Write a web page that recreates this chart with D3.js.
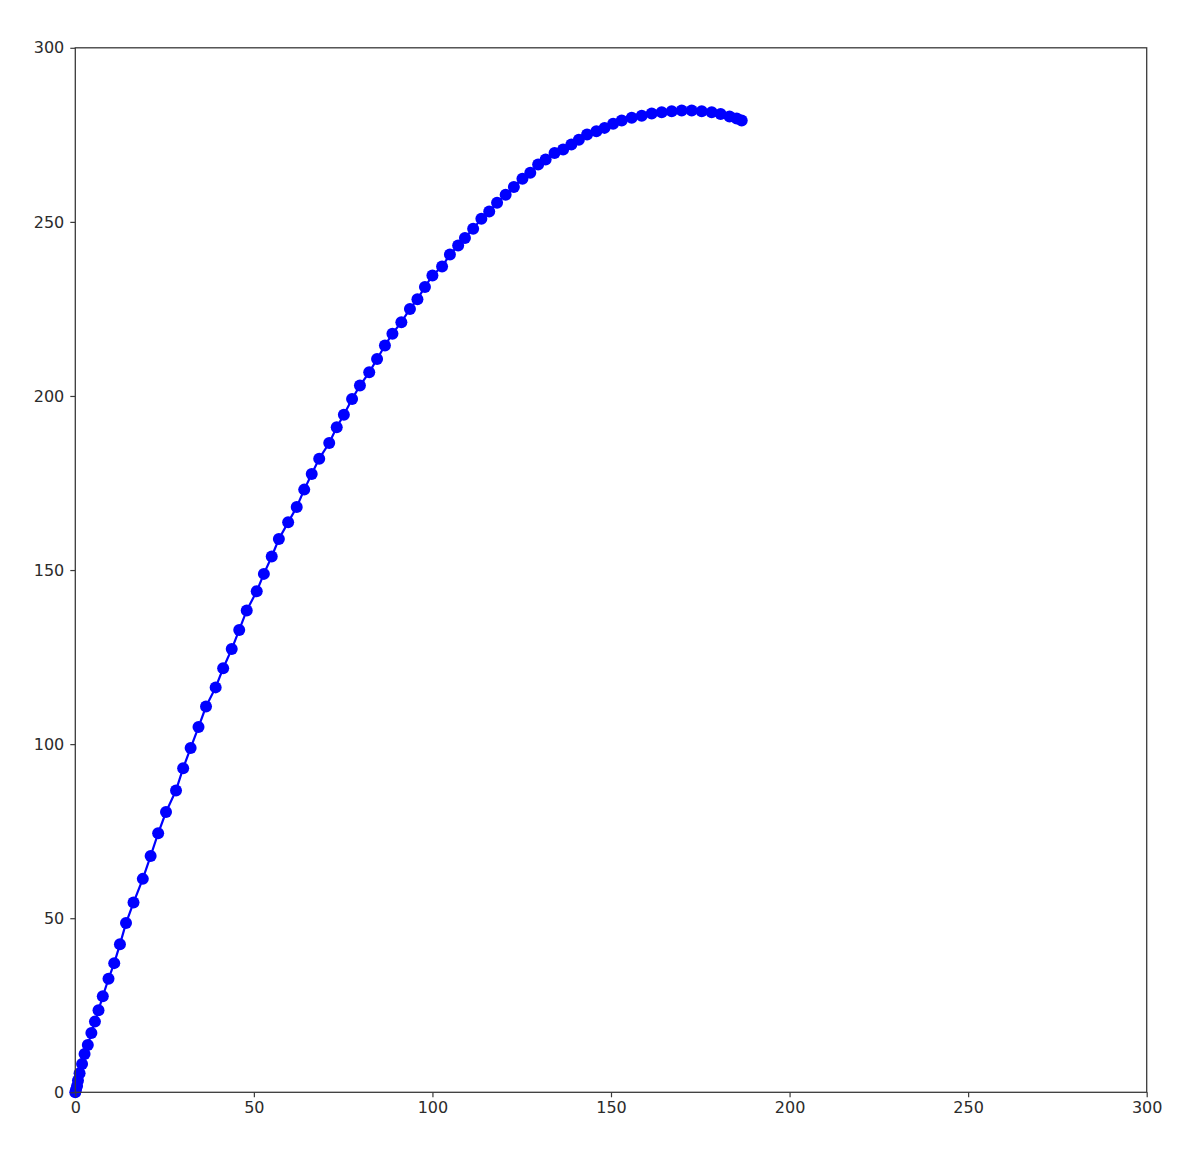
<!DOCTYPE html>
<html>
<head>
<meta charset="utf-8">
<script src="https://cdn.jsdelivr.net/npm/d3@7"></script>
<style>
  html, body { margin: 0; padding: 0; background: #fff; }
  svg { display: block; }
  .tick text { font-family: "DejaVu Sans", sans-serif; }
</style>
</head>
<body>
<div id="chart"></div>
<script>
// Trajectory data (x, y)
const xValues = [0, 0.2, 0.5, 0.75, 1.2, 1.9, 2.6, 3.5, 4.5, 5.5, 6.5, 7.7, 9.3, 10.9, 12.5, 14.2, 16.3,
  18.9, 21.1, 23.2, 25.4, 28.2, 30.2, 32.3, 34.5, 36.6, 39.3, 41.4, 43.8, 45.9, 48.0, 50.8, 52.8,
  55.0, 57.0, 59.6, 62.0, 64.1, 66.2, 68.3, 71.1, 73.2, 75.2, 77.5, 79.7, 82.3, 84.5, 86.7, 88.8,
  91.3, 93.7, 95.8, 97.9, 100.0, 102.7, 104.9, 107.2, 109.1, 111.4, 113.7, 115.9, 118.1, 120.5,
  122.8, 125.2, 127.4, 129.6, 131.7, 134.2, 136.6, 138.9, 141.0, 143.3, 145.9, 148.2, 150.6, 153.0,
  155.8, 158.6, 161.4, 164.2, 167.0, 169.8, 172.6, 175.4, 178.2, 180.7, 183.2, 185.2, 186.6];
const yValues = [0, 0.7, 1.8, 3.4, 5.5, 8.1, 11.0, 13.6, 17.0, 20.3, 23.6, 27.6, 32.6, 37.1, 42.5, 48.6, 54.5,
  61.3, 67.9, 74.4, 80.5, 86.7, 93.1, 98.9, 104.9, 110.8, 116.3, 121.8, 127.3, 132.8, 138.4, 143.9, 148.9,
  153.9, 158.9, 163.7, 168.1, 173.1, 177.6, 182.0, 186.5, 191.0, 194.6, 199.1, 203.0, 206.8, 210.6, 214.5, 217.9,
  221.2, 225.0, 227.8, 231.3, 234.6, 237.2, 240.6, 243.2, 245.4, 248.0, 250.9, 253.0, 255.5, 257.8,
  260.0, 262.4, 264.1, 266.5, 267.9, 269.8, 270.8, 272.2, 273.6, 275.1, 276.0, 277.0, 278.2, 279.1,
  279.9, 280.5, 281.1, 281.5, 281.8, 282.0, 282.0, 281.8, 281.5, 281.0, 280.3, 279.7, 279.1];
const xTicks = [0, 50, 100, 150, 200, 250, 300];
const yTicks = [0, 50, 100, 150, 200, 250, 300];
const xDomain = [0, 300];
const yDomain = [0, 300];

const W = 1200, H = 1162;
const margin = { left: 75.3, right: 1200 - 1146.7, top: 47.8, bottom: 1162 - 1092.3 };

const svg = d3.select("#chart").append("svg")
  .attr("width", W).attr("height", H)
  .style("background", "#fff");

const x = d3.scaleLinear().domain(xDomain).range([margin.left, W - margin.right]);
const y = d3.scaleLinear().domain(yDomain).range([H - margin.bottom, margin.top]);

const data = xValues.map((v, i) => ({ x: v, y: yValues[i] }));

const axisColor = "#3a3a3a";
const textColor = "#2b2b2b";

// Line + markers
svg.append("path")
  .datum(data)
  .attr("fill", "none")
  .attr("stroke", "#0000ff")
  .attr("stroke-width", 2.2)
  .attr("d", d3.line().x(d => x(d.x)).y(d => y(d.y)));

svg.append("g").selectAll("circle")
  .data(data)
  .join("circle")
  .attr("cx", d => x(d.x))
  .attr("cy", d => y(d.y))
  .attr("r", 6)
  .attr("fill", "#0000ff");

// Axes
const xAxis = svg.append("g")
  .attr("transform", `translate(0,${H - margin.bottom})`)
  .call(d3.axisBottom(x).tickValues(xTicks).tickSize(5).tickPadding(4).tickFormat(d3.format("d")));
const yAxis = svg.append("g")
  .attr("transform", `translate(${margin.left},0)`)
  .call(d3.axisLeft(y).tickValues(yTicks).tickSize(5).tickPadding(6).tickFormat(d3.format("d")));

[xAxis, yAxis].forEach(g => {
  g.select(".domain").remove();
  g.selectAll(".tick line").attr("stroke", axisColor).attr("stroke-width", 1.2);
  g.selectAll(".tick text").attr("fill", textColor).style("font-size", "16px");
});

// Frame
svg.append("rect")
  .attr("x", margin.left).attr("y", margin.top)
  .attr("width", W - margin.right - margin.left)
  .attr("height", H - margin.bottom - margin.top)
  .attr("fill", "none")
  .attr("stroke", axisColor)
  .attr("stroke-width", 1.3);
</script>
</body>
</html>
